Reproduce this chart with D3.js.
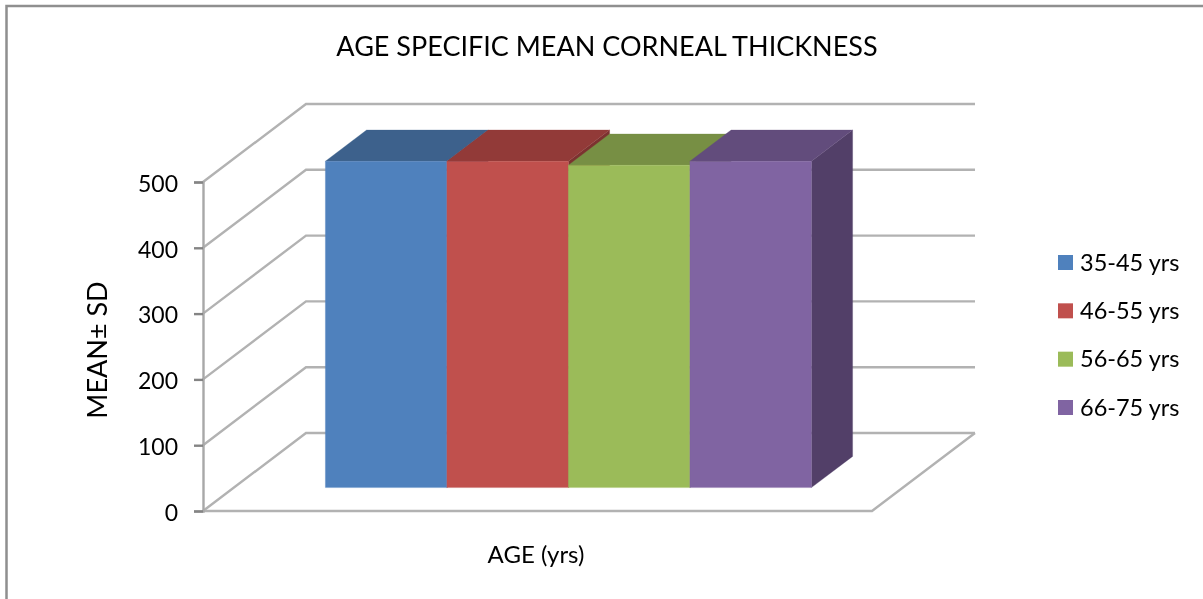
<!DOCTYPE html>
<html>
<head>
<meta charset="utf-8">
<script src="https://cdn.jsdelivr.net/npm/d3@7"></script>
<style>
  html, body { margin: 0; padding: 0; background: #fff; }
  svg { display: block; filter: blur(0.45px); }
  text { font-family: Lato, "Open Sans", sans-serif; fill: #000; }
</style>
</head>
<body>
<svg id="chart" width="1203" height="599"></svg>
<script>
// data
const ageGroups = ['35-45 yrs', '46-55 yrs', '56-65 yrs', '66-75 yrs'];
const meanThickness = [496, 496, 490, 496];
const yTicks = [0, 100, 200, 300, 400, 500];
const frontColors = ['#4f81bd', '#c0504d', '#9bbb59', '#8064a2'];
const topColors = ['#3d618c', '#923a38', '#778f44', '#624c7c'];
const sideColors = ['#34527a', '#7c3230', '#657a3a', '#523f68'];

const svg = d3.select('#chart');

// scales. front plane of the box, depth is handled by depthX/depthY
const y = d3.scaleLinear().domain([0, 500]).range([511, 182]);
const x = d3.scaleBand().domain(ageGroups).range([203, 872]).paddingInner(0).paddingOuter(0.753);
const depthX = d3.scaleLinear().domain([0, 1]).range([0, 103]);
const depthY = d3.scaleLinear().domain([0, 1]).range([0, -78]);

const barFront = 0.3;
const barBack = 0.7;
const gridColor = '#b2b2b2';

// project a point in the 3d box to the screen
function pt(px, val, depth) {
    return [px + depthX(depth), y(val) + depthY(depth)];
}
const line = d3.line();
function poly(points, color) {
    svg.append('path')
        .attr('d', line(points) + 'Z')
        .attr('fill', color)
        .attr('stroke', color)
        .attr('stroke-width', 0.3);
}

// picture border, only left and top show
svg.append('path')
    .attr('d', 'M6.5,599V6H1203')
    .attr('fill', 'none')
    .attr('stroke', '#8f8f8f')
    .attr('stroke-width', 2.5);

// gridlines on side wall and back wall
const [x0, x1] = x.range();
yTicks.forEach(function(t) {
    svg.append('path')
        .attr('d', line([pt(x0, t, 0), pt(x0, t, 1), pt(x1, t, 1)]))
        .attr('fill', 'none')
        .attr('stroke', gridColor)
        .attr('stroke-width', 2.4);
});

// floor front and right edge
svg.append('path')
    .attr('d', line([pt(x0, 0, 0), pt(x1, 0, 0), pt(x1, 0, 1)]))
    .attr('fill', 'none')
    .attr('stroke', gridColor)
    .attr('stroke-width', 2.4);

// y axis
const yAxis = d3.axisLeft(y).tickValues(yTicks).tickSize(9).tickPadding(16);
const axisG = svg.append('g')
    .attr('transform', 'translate(' + x0 + ',0)')
    .call(yAxis);
axisG.select('.domain').attr('stroke', '#a8a8a8').attr('stroke-width', 2.4);
axisG.selectAll('.tick line').attr('stroke', '#848484').attr('stroke-width', 2.4);
axisG.selectAll('.tick text')
    .attr('font-size', 23)
    .attr('dy', '0.4em')
    .style('font-family', 'Lato, "Open Sans", sans-serif')
    .attr('fill', '#000');

// bars, left to right so the next one covers the side of the last
ageGroups.forEach(function(g, i) {
    const left = x(g);
    const right = left + x.bandwidth();
    const v = meanThickness[i];
    poly([pt(right, 0, barFront), pt(right, 0, barBack), pt(right, v, barBack), pt(right, v, barFront)], sideColors[i]);
    poly([pt(left, v, barFront), pt(left, v, barBack), pt(right, v, barBack), pt(right, v, barFront)], topColors[i]);
    poly([pt(left, 0, barFront), pt(right, 0, barFront), pt(right, v, barFront), pt(left, v, barFront)], frontColors[i]);
});

// legend
const legendY = d3.scalePoint().domain(ageGroups).range([262.5, 407.5]);
ageGroups.forEach(function(g, i) {
    svg.append('rect')
        .attr('x', 1058)
        .attr('y', legendY(g) - 7.5)
        .attr('width', 15)
        .attr('height', 15)
        .attr('fill', frontColors[i]);
    svg.append('text')
        .attr('x', 1080)
        .attr('y', legendY(g) + 8)
        .attr('font-size', 23.5)
        .text(g);
});

// titles
svg.append('text')
    .attr('x', 607)
    .attr('y', 56)
    .attr('text-anchor', 'middle')
    .attr('font-size', 27)
    .text('AGE SPECIFIC MEAN CORNEAL THICKNESS');

svg.append('text')
    .attr('x', 536)
    .attr('y', 563)
    .attr('text-anchor', 'middle')
    .attr('font-size', 24)
    .text('AGE (yrs)');

svg.append('text')
    .attr('transform', 'translate(107,350) rotate(-90)')
    .attr('text-anchor', 'middle')
    .attr('font-size', 27)
    .text('MEAN\u00b1 SD');
</script>
</body>
</html>
